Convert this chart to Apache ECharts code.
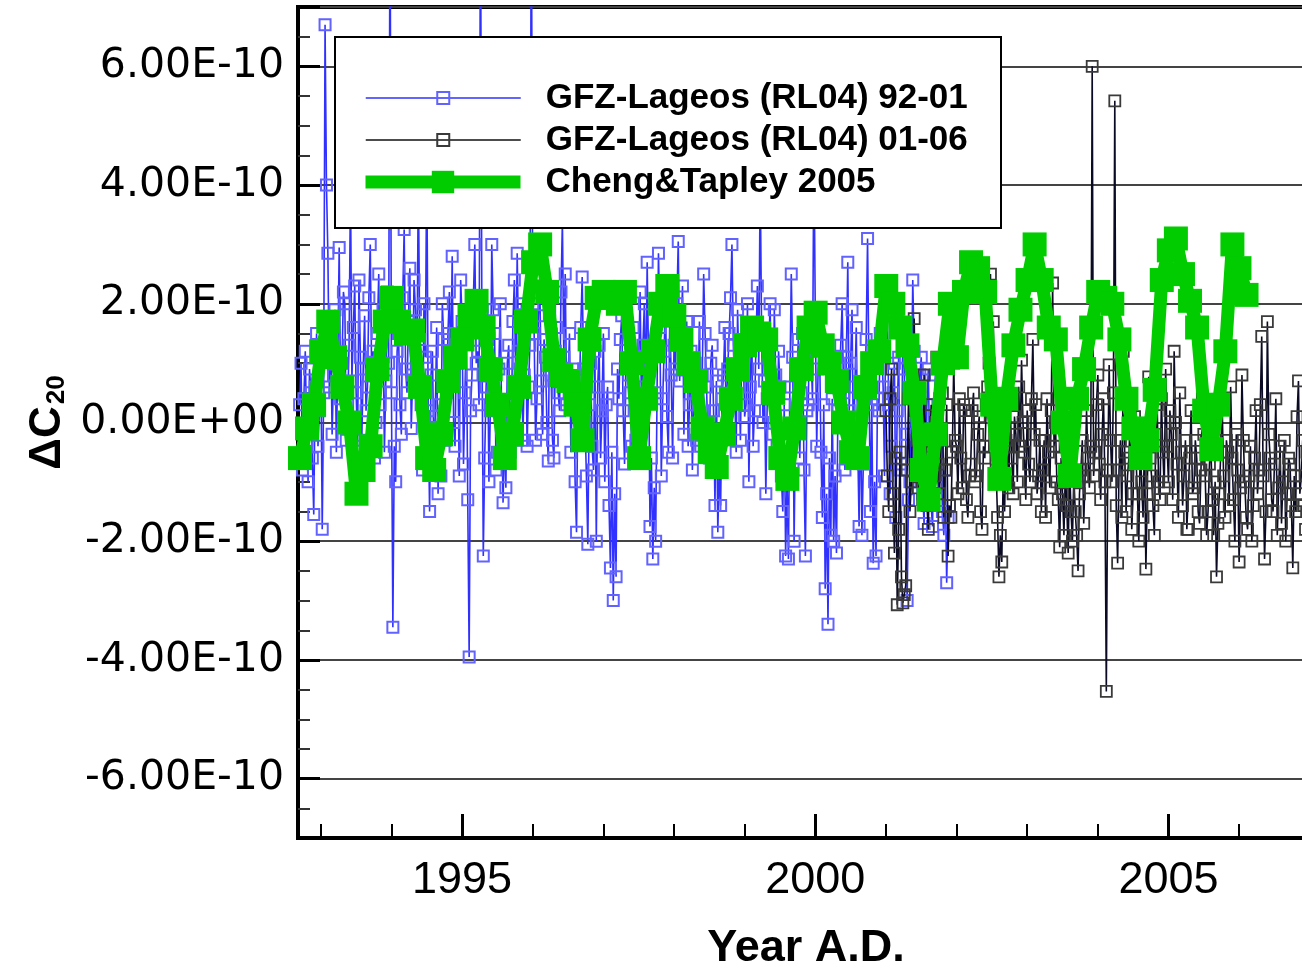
<!DOCTYPE html>
<html>
<head>
<meta charset="utf-8">
<script src="https://cdn.jsdelivr.net/npm/echarts@6/dist/echarts.min.js"></script>
<style>
html,body{margin:0;padding:0;background:#fff;}
#c{width:1302px;height:969px;}
</style>
</head>
<body>
<div id="c"></div>
<script>
// values in units of 1E-10
const seriesNames = ['GFZ-Lageos (RL04) 92-01', 'GFZ-Lageos (RL04) 01-06', 'Cheng&Tapley 2005'];

const blueStart = 1992.70, blueStep = 0.02;
const blueValues = [
 0.3,1.0,-0.8,0.4,1.2,-0.3,-1.0,0.9,0.5,-0.6,-1.55,0.6,1.5,-0.4,0.2,1.1,-1.8,0.5,6.7,4.0,
 2.85,0.6,1.5,-0.2,0.8,1.9,-0.5,1.0,2.95,0.4,1.0,2.2,2.0,-0.3,0.3,1.3,4.0,0.7,1.6,2.3,
 0.5,-0.4,2.4,1.1,-0.3,0.9,1.8,0.2,0.6,2.1,3.0,0.8,1.2,-0.6,0.0,1.5,2.5,0.3,1.0,1.9,
 -0.5,0.7,2.2,1.0,9.0,0.5,-3.45,-0.4,-1.0,1.2,1.5,0.3,-0.2,2.1,3.25,0.9,0.5,1.7,2.6,-0.1,
 0.8,2.4,1.9,0.6,4.2,1.4,0.3,-0.8,2.0,1.1,4.5,0.2,-1.5,0.8,1.2,-0.5,0.1,1.6,-1.2,0.3,
 -0.9,2.0,1.4,-0.3,0.5,1.5,2.2,0.9,2.8,0.0,-0.4,1.3,1.0,-0.9,2.4,1.7,-0.7,0.5,1.6,-1.3,
 -3.95,0.2,0.8,2.1,3.0,1.0,1.2,0.3,9.0,1.8,-2.25,-0.6,0.6,1.4,-1.0,0.2,3.0,1.9,1.5,-0.8,
 -0.5,0.9,2.0,0.1,-1.35,-0.2,-1.1,1.0,1.3,-0.5,0.3,1.7,2.4,0.6,2.85,1.2,0.9,2.0,-0.3,0.8,
 1.8,-0.4,0.6,1.3,9.0,2.0,1.5,-0.3,0.4,1.8,2.3,0.7,-0.2,1.4,1.1,0.0,-0.65,1.9,0.8,-0.3,
 -0.6,1.2,1.6,0.5,0.2,2.2,3.4,1.1,2.5,0.3,0.7,1.5,-0.5,0.4,0.9,-1.0,-1.85,0.5,0.4,1.6,
 2.45,0.9,0.0,-0.9,-2.05,0.3,1.0,-0.4,-0.8,1.2,-2.0,0.6,1.3,-0.6,0.2,1.5,-1.0,0.3,0.6,-1.4,
 -2.45,-0.5,-3.0,-1.2,-2.6,0.9,0.4,1.4,1.8,0.2,-0.7,1.0,2.2,0.8,0.5,-0.4,1.6,1.1,-0.3,0.6,
 1.0,2.2,0.2,1.3,2.0,0.4,2.7,1.0,-1.75,-0.6,-2.3,-1.1,-2.0,0.5,2.85,1.6,-0.9,0.4,1.2,2.1,
 0.1,-0.5,1.8,0.8,-0.6,1.3,0.9,2.0,3.05,0.7,1.4,2.3,-0.2,0.9,1.7,-0.4,0.3,1.2,-0.8,0.5,
 1.0,-0.3,0.4,1.7,-0.4,0.8,2.5,1.5,0.6,-0.2,-0.6,1.0,1.3,0.2,-1.4,0.7,-1.85,-0.8,-1.4,0.4,
 0.8,1.6,-0.2,0.9,1.5,2.1,3.0,1.3,0.5,-0.5,1.9,0.8,-0.3,1.4,1.2,0.1,0.3,2.0,-1.0,0.6,
 1.6,-0.4,0.2,1.3,2.3,0.9,4.2,1.5,0.0,0.7,-1.2,0.4,1.1,2.0,0.4,-0.2,1.9,0.8,-0.4,1.2,
 0.6,-0.9,-1.5,0.3,-2.25,-1.0,-2.3,0.6,2.5,1.1,-2.0,0.0,0.8,1.4,-0.6,0.5,1.5,-0.8,-2.25,0.2,
 0.3,1.6,1.2,0.4,4.8,1.8,-0.4,0.9,1.4,-0.5,-1.6,0.3,-2.8,-1.2,-3.4,-0.6,-1.9,0.4,-2.0,-0.9,
 -2.2,0.2,0.6,1.3,2.0,0.5,-0.8,1.1,2.7,0.2,1.0,1.9,-0.5,0.6,1.6,-0.3,-1.75,0.5,-1.9,-0.7,
 0.4,1.4,3.1,0.8,-1.5,0.3,-2.37,-1.0,-2.25,0.4,0.2,1.5,1.3,0.6,-0.9,2.35,1.8,0.3,-1.2,-0.4,
 0.5,1.0,-1.6,0.2,1.1,-0.8,-0.7,1.6,0.9,-0.2,-3.0,-1.3,-1.0,0.5,2.4,1.2,0.6,-0.7,-0.5,0.8,
 1.1,-1.2,-1.7,-0.4,0.3,0.9,-0.6,-1.4,-1.75,0.1,0.8,-0.5,-1.1,0.4,-0.3,-1.5,-1.9,-0.8,-2.7,-1.6,
 -1.4
];

const blackStart = 2001.0, blackStep = 0.02;
const blackValues = [
 0.2,-0.9,-1.5,0.4,0.9,-1.2,-2.2,-0.6,-3.07,-1.8,-0.5,-2.6,-3.04,-2.9,-2.75,-0.8,0.4,-1.5,-1.0,0.6,
 1.75,0.2,-0.3,-1.1,0.6,-0.4,-1.3,0.8,-0.2,-1.4,-1.8,-0.5,0.3,-1.2,-0.9,0.0,1.1,-0.7,-1.2,-0.2,
 0.5,-1.6,-0.8,0.3,-2.25,-1.4,-1.6,-0.5,1.0,-0.3,-0.4,-1.2,0.4,-0.6,-1.1,0.3,0.2,-1.3,-1.6,-0.9,
 -0.7,0.2,0.5,-1.0,-0.9,-0.2,0.1,-1.5,-1.8,-0.4,-0.6,0.3,0.6,1.0,2.5,0.4,1.7,-0.2,-0.8,-1.6,
 -2.6,-1.9,-2.35,-0.9,-1.5,-0.3,-0.4,-1.1,0.3,-0.6,-1.2,0.1,-0.2,-1.0,0.6,-0.4,1.05,0.0,-0.5,-1.3,
 0.2,-0.7,-1.0,0.4,1.4,-0.2,0.3,-1.2,-0.9,-0.3,-1.5,-0.8,-0.3,-1.6,0.4,-0.5,-1.1,0.2,2.35,-0.4,
 0.0,-1.0,-1.3,-2.1,-0.6,-1.2,-1.9,-0.8,-1.4,-2.2,-0.7,-1.5,-2.0,-0.9,-1.5,-1.9,-2.5,-1.2,-0.8,-0.3,
 -1.7,-0.9,0.2,-0.6,-1.1,-0.4,6.0,-0.9,-0.5,0.3,0.8,-0.7,-1.3,-0.2,0.4,-1.0,-4.53,-0.8,0.97,-0.3,
 -1.0,0.5,5.42,-1.4,-2.37,-0.8,-0.3,-1.6,1.2,-0.5,-1.5,-0.9,-0.6,0.2,-1.8,-1.2,0.1,-0.6,-1.2,-2.0,
 -0.4,-1.0,-1.6,-0.3,-2.47,-1.2,0.77,-0.6,-0.9,-1.4,-1.9,-0.2,0.3,-1.0,-1.3,0.4,-0.5,-1.1,0.9,-0.4,
 -1.0,0.2,-0.2,-1.3,1.2,0.0,-0.7,-1.6,0.5,-0.5,-1.4,-0.9,-0.3,-1.8,-1.8,-0.6,0.2,-1.2,-1.1,-0.3,
 -0.6,-1.5,-1.7,-0.8,0.4,-0.2,-0.9,-1.9,-1.5,-0.7,-0.4,-1.3,-1.9,-1.0,-2.6,-1.7,-1.2,-0.5,0.3,-0.9,
 -1.6,-0.3,-0.5,-1.4,0.6,-0.6,-1.3,-2.0,-0.2,-0.8,-2.35,-1.1,0.8,-0.3,-1.0,-1.6,-1.8,-0.9,-0.4,-2.0,
 -1.4,-0.6,0.2,-1.2,-0.8,0.3,1.45,-0.9,-2.3,-1.5,1.7,-0.2,-0.6,-1.3,-1.5,-0.7,0.4,-1.9,-1.1,-0.4,
 -1.7,-1.0,-0.3,-2.0,-1.2,-0.6,-0.7,-1.4,-2.45,-0.9,-1.5,0.1,0.7,-1.2,-0.9,-0.3,-1.4,-1.8,-0.5,-1.0,
 -1.2
];

const greenStart = 1992.705, greenStep = 0.1;
const greenValues = [
 -0.6,-0.1,0.3,1.2,1.7,1.1,0.6,0.0,-1.2,-0.8,
 -0.4,0.9,1.7,2.1,1.7,1.5,1.55,0.6,-0.6,-0.8,
 -0.2,0.7,1.1,1.4,1.8,2.05,1.6,0.9,0.3,-0.6,
 -0.2,0.6,1.7,2.7,3.0,2.2,1.05,0.8,0.7,0.3,
 -0.3,1.4,2.1,2.2,2.1,2.0,2.2,1.0,-0.6,0.4,
 1.2,2.0,2.3,1.8,1.4,1.0,0.7,-0.1,-0.5,-0.75,
 -0.2,0.4,0.9,1.3,1.6,1.5,1.4,0.5,-0.6,-0.95,
 -0.1,0.9,1.6,1.85,1.3,1.0,0.7,0.0,-0.5,-0.6,
 0.6,1.0,1.2,2.3,2.0,1.6,1.3,0.5,-0.8,-1.3,
 -0.2,1.0,2.0,1.1,2.2,2.7,2.6,2.2,0.3,-0.95,
 0.4,1.3,1.9,2.4,3.0,2.4,1.6,1.4,0.0,-0.9,
 0.4,0.9,1.6,2.2,2.1,2.0,1.4,0.4,-0.1,-0.6,
 -0.3,0.55,2.4,2.9,3.1,2.5,2.05,1.6,0.2,-0.45,
 0.3,1.2,3.0,2.6,2.15
];

const xMin = 1992.677, xMax = 2007.06;
const yMin = -7, yMax = 7;

function toPairs(start, step, vals) {
  return vals.map((v, i) => [+(start + i * step).toFixed(4), v]);
}

const FONT = "'Liberation Sans', Arial, sans-serif";
const chart = echarts.init(document.getElementById('c'));

function legendFor(name, left, top, h, lineStyle) {
  return {
    data: [name], left: left, top: top, padding: 0, itemWidth: 155, itemHeight: h,
    selectedMode: false, z: 20, lineStyle: lineStyle,
    textStyle: {fontFamily: FONT, fontWeight: 'bold', fontSize: 35, color: '#000', lineHeight: 36, padding: [0, 0, 0, 20]}
  };
}

chart.setOption({
  animation: false,
  backgroundColor: '#fff',
  grid: {left: 298, top: 7, right: -12, bottom: 131, containLabel: false, outerBoundsMode: 'none',
         show: true, borderColor: '#000', borderWidth: 4, backgroundColor: 'transparent'},
  legend: [
    legendFor(seriesNames[0], 365, 80, 15, {width: 1.5, color: '#3030ff'}),
    legendFor(seriesNames[1], 365, 122, 15, {width: 1.5, color: '#111'}),
    legendFor(seriesNames[2], 359, 164, 28, {width: 13, color: '#00cc00'})
  ],
  graphic: [{
    type: 'rect', z: 10, shape: {x: 335, y: 37, width: 666, height: 191},
    style: {fill: '#fff', stroke: '#000', lineWidth: 2}
  }],
  xAxis: {
    type: 'value', min: xMin, max: xMax, splitNumber: 3, minInterval: 5, maxInterval: 5,
    name: 'Year A.D.', nameLocation: 'middle', nameGap: 88,
    nameTextStyle: {fontFamily: FONT, fontWeight: 'bold', fontSize: 45, color: '#000'},
    axisLine: {onZero: false, lineStyle: {color: '#000', width: 4}},
    axisTick: {inside: true, length: 24, lineStyle: {color: '#000', width: 3}},
    minorTick: {show: true, splitNumber: 5, length: 14, lineStyle: {color: '#000', width: 2}},
    splitLine: {show: false},
    axisLabel: {
      showMinLabel: false, showMaxLabel: false, margin: 20,
      fontFamily: FONT, fontSize: 45, color: '#000',
      formatter: v => (Math.abs(v % 5) < 1e-6 ? String(Math.round(v)) : '')
    }
  },
  yAxis: {
    type: 'value', min: yMin, max: yMax, splitNumber: 7, minInterval: 2, maxInterval: 2,
    name: '{a|ΔC}{b|20}', nameLocation: 'middle', nameGap: 226, nameRotate: 90,
    nameTextStyle: {
      rich: {
        a: {fontFamily: FONT, fontWeight: 'bold', fontSize: 44, color: '#000', lineHeight: 44},
        b: {fontFamily: FONT, fontWeight: 'bold', fontSize: 26, color: '#000', lineHeight: 26, verticalAlign: 'bottom', padding: [0, 0, 0, 2]}
      }
    },
    axisLine: {show: true, onZero: false, lineStyle: {color: '#000', width: 4}},
    axisTick: {inside: true, length: 22, lineStyle: {color: '#000', width: 3}},
    minorTick: {show: true, splitNumber: 4, length: 12, lineStyle: {color: '#333', width: 2}},
    splitLine: {show: true, lineStyle: {color: '#444', width: 2}},
    axisLabel: {
      showMinLabel: false, showMaxLabel: false, margin: 14,
      fontFamily: "'DejaVu Sans', sans-serif", fontSize: 41, color: '#000',
      formatter: v => {
        if (Math.abs(v % 2) > 1e-6) return '';
        if (Math.abs(v) < 1e-9) return '0.00E+00';
        return v.toFixed(2) + 'E-10';
      }
    }
  },
  series: [
    {
      name: seriesNames[0], type: 'line', data: toPairs(blueStart, blueStep, blueValues),
      symbol: 'rect', symbolSize: 11, showAllSymbol: true, sampling: 'none', z: 2,
      color: '#3333ff',
      lineStyle: {color: '#3030ff', width: 1.6},
      itemStyle: {color: 'rgba(0,0,0,0)', borderColor: '#6262ff', borderWidth: 2},
      emphasis: {disabled: true}
    },
    {
      name: seriesNames[1], type: 'line', data: toPairs(blackStart, blackStep, blackValues),
      symbol: 'rect', symbolSize: 11, showAllSymbol: true, sampling: 'none', z: 3,
      color: '#111',
      lineStyle: {color: '#0a0a24', width: 1.6},
      itemStyle: {color: 'rgba(0,0,0,0)', borderColor: '#3a3a3a', borderWidth: 1.8},
      emphasis: {disabled: true}
    },
    {
      name: seriesNames[2], type: 'line', data: toPairs(greenStart, greenStep, greenValues),
      symbol: 'rect', symbolSize: 24, showAllSymbol: true, sampling: 'none', z: 4,
      color: '#00cc00',
      lineStyle: {color: '#00cc00', width: 13},
      itemStyle: {color: '#00cc00'},
      emphasis: {disabled: true}
    }
  ]
});
</script>
</body>
</html>
